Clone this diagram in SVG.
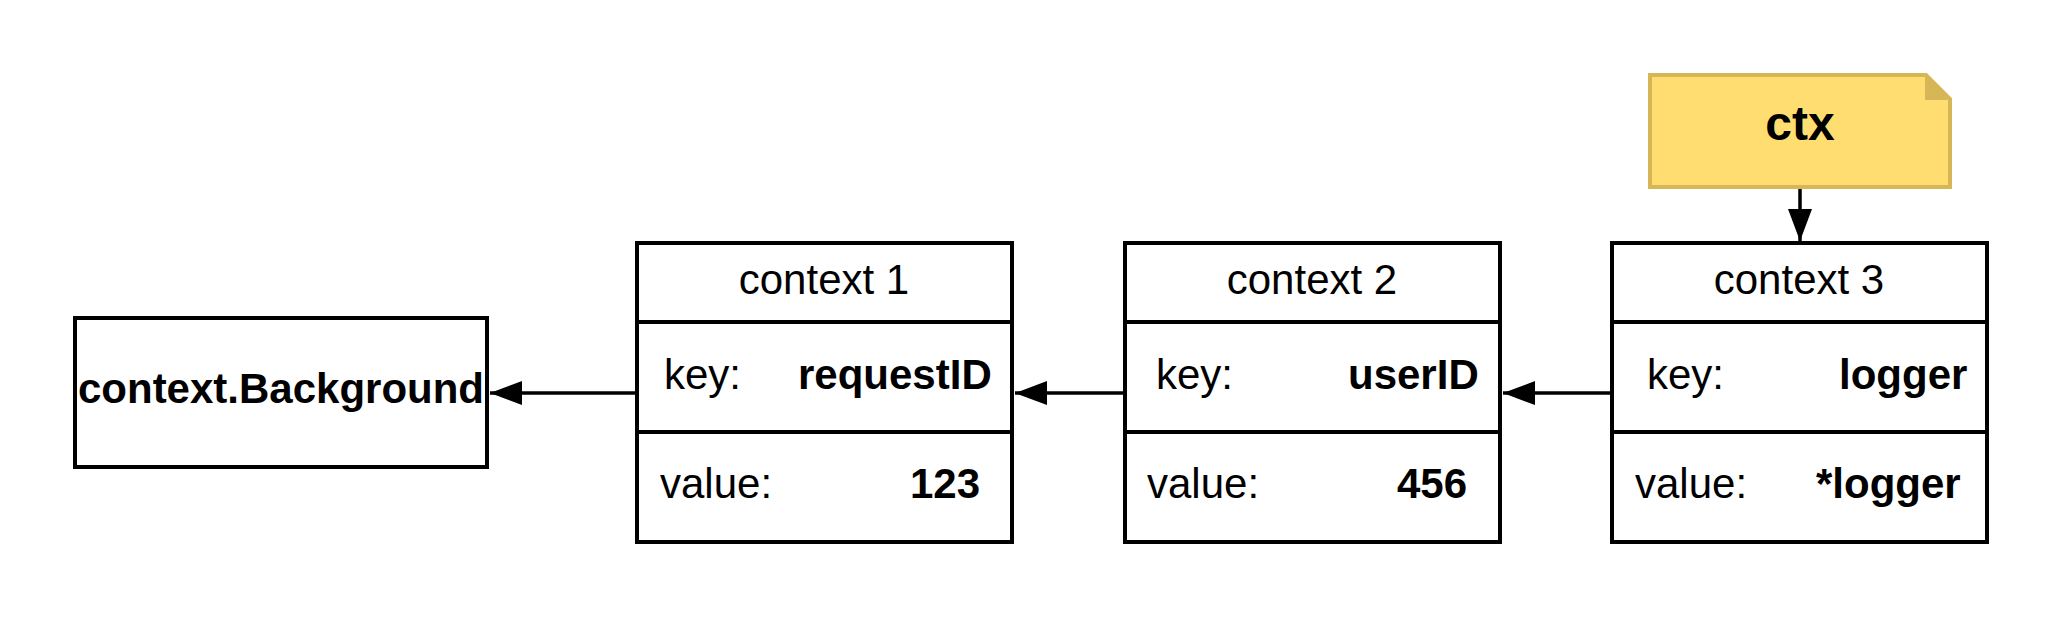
<svg xmlns="http://www.w3.org/2000/svg" width="2063" height="619" viewBox="0 0 2063 619">
<defs>
<style>
.box{fill:#ffffff;stroke:#000000;stroke-width:4}
.div{stroke:#000000;stroke-width:4}
.t{font-family:"Liberation Sans",Arial,sans-serif;font-size:42px;fill:#000000}
.b{font-weight:bold}
.c{text-anchor:middle}
.conn{stroke:#000000;stroke-width:3.5;fill:none}
</style>
<marker id="arr" viewBox="0 0 32 24" refX="32" refY="12" markerWidth="32" markerHeight="24" markerUnits="userSpaceOnUse" orient="auto">
<path d="M0,0 L32,12 L0,24 Z" fill="#000000"/>
</marker>
</defs>
<rect width="2063" height="619" fill="#ffffff"/>
<g id="background">
<rect class="box" x="75" y="318" width="412" height="149"/>
<text class="t b c" x="281" y="403">context.Background</text>
</g>
<g id="context1">
<rect class="box" x="637" y="243" width="375" height="299"/>
<line class="div" x1="637" y1="322" x2="1012" y2="322"/>
<line class="div" x1="637" y1="432" x2="1012" y2="432"/>
<text class="t c" x="824" y="294">context 1</text>
<text class="t" x="664" y="389">key:</text>
<text class="t b" x="798" y="389">requestID</text>
<text class="t" x="660" y="498">value:</text>
<text class="t b" x="910" y="498">123</text>
</g>
<g id="context2">
<rect class="box" x="1125" y="243" width="375" height="299"/>
<line class="div" x1="1125" y1="322" x2="1500" y2="322"/>
<line class="div" x1="1125" y1="432" x2="1500" y2="432"/>
<text class="t c" x="1312" y="294">context 2</text>
<text class="t" x="1156" y="389">key:</text>
<text class="t b" x="1348" y="389">userID</text>
<text class="t" x="1147" y="498">value:</text>
<text class="t b" x="1397" y="498">456</text>
</g>
<g id="context3">
<rect class="box" x="1612" y="243" width="375" height="299"/>
<line class="div" x1="1612" y1="322" x2="1987" y2="322"/>
<line class="div" x1="1612" y1="432" x2="1987" y2="432"/>
<text class="t c" x="1799" y="294">context 3</text>
<text class="t" x="1647" y="389">key:</text>
<text class="t b" x="1839" y="389">logger</text>
<text class="t" x="1635" y="498">value:</text>
<text class="t b" x="1816" y="498">*logger</text>
</g>
<g id="ctx">
<path d="M1650,75 L1926,75 L1950,99 L1950,187 L1650,187 Z" fill="#FFDD71" stroke="#D6B656" stroke-width="4"/>
<path d="M1926,75 L1926,99 L1950,99 Z" fill="#D6B656" stroke="#D6B656" stroke-width="2"/>
<text class="t b c" x="1800" y="140" style="font-size:48px">ctx</text>
</g>
<g id="connectors">
<line class="conn" x1="1800" y1="189" x2="1800" y2="241" marker-end="url(#arr)"/>
<line class="conn" x1="1610" y1="393" x2="1503" y2="393" marker-end="url(#arr)"/>
<line class="conn" x1="1123" y1="393" x2="1015" y2="393" marker-end="url(#arr)"/>
<line class="conn" x1="635" y1="393" x2="490" y2="393" marker-end="url(#arr)"/>
</g>
</svg>
